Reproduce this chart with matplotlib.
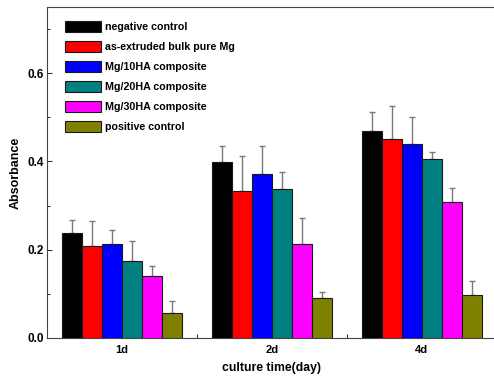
import numpy as np
import matplotlib

matplotlib.use("Agg")
import matplotlib.pyplot as plt

# --- values ---
days = ["1d", "2d", "4d"]
groups = ["negative control", "as-extruded bulk pure Mg", "Mg/10HA composite",
          "Mg/20HA composite", "Mg/30HA composite", "positive control"]
colors = ["#000000", "#ff0000", "#0000ff", "#008080", "#ff00ff", "#808000"]
means = np.array([
    [0.238, 0.398, 0.469],
    [0.209, 0.334, 0.450],
    [0.214, 0.371, 0.440],
    [0.174, 0.337, 0.405],
    [0.140, 0.214, 0.307],
    [0.056, 0.090, 0.098],
])
tops = np.array([
    [0.268, 0.435, 0.513],
    [0.265, 0.412, 0.525],
    [0.245, 0.434, 0.500],
    [0.220, 0.375, 0.422],
    [0.164, 0.273, 0.340],
    [0.083, 0.105, 0.130],
])
errs = tops - means

plt.rcParams.update({
    "font.family": ["Liberation Sans", "DejaVu Sans"],
    "font.weight": "bold",
    "axes.linewidth": 0.8,
})

fig = plt.figure(figsize=(4.94, 3.79), dpi=100)
ax = fig.add_axes([0.0951, 0.1082, 0.91, 0.8734])

x = np.arange(1, len(days) + 1)
w = 0.8 / len(groups)
for i, (g, c) in enumerate(zip(groups, colors)):
    pos = x - 0.4 + w * (i + 0.5)
    ax.bar(pos, means[i], width=w, color=c, edgecolor="#1a1a1a", linewidth=0.8,
           label=g, zorder=3)
    ax.errorbar(pos, means[i], yerr=[np.zeros(len(days)), errs[i]], fmt="none",
                ecolor="#7a7a7a", elinewidth=1.0, capsize=2.2, capthick=1.0, zorder=2)

ax.set_xlim(0.5, 3.5)
ax.set_ylim(0, 0.75)
ax.set_xticks(x)
ax.set_xticklabels(days, fontsize=8, fontweight="bold")
ax.set_xticks([1.5, 2.5], minor=True)
ax.tick_params(axis="x", which="major", length=0, pad=5)
ax.tick_params(axis="x", which="minor", direction="in", length=3, width=0.6)
ax.set_yticks([0.0, 0.2, 0.4, 0.6])
ax.set_yticklabels(["0.0", "0.2", "0.4", "0.6"], fontsize=8.5, fontweight="bold")
ax.set_yticks([0.1, 0.3, 0.5, 0.7], minor=True)
ax.tick_params(axis="y", which="major", direction="in", length=3.5, width=0.6, pad=2)
ax.tick_params(axis="y", which="minor", direction="in", length=2, width=0.6)
for s in ax.spines.values():
    s.set_color("#444444")

ax.set_xlabel("culture time(day)", fontsize=8.8, fontweight="bold", labelpad=5)
ax.set_ylabel("Absorbance", fontsize=9, fontweight="bold", labelpad=4)

leg = ax.legend(loc="upper left", bbox_to_anchor=(0.04, 0.958), frameon=False,
                prop={"size": 7.7, "weight": "bold"}, handlelength=3.4,
                handleheight=1.22, handletextpad=0.37, labelspacing=0.83,
                borderpad=0, borderaxespad=0)

fig.savefig("out.png", dpi=100)
